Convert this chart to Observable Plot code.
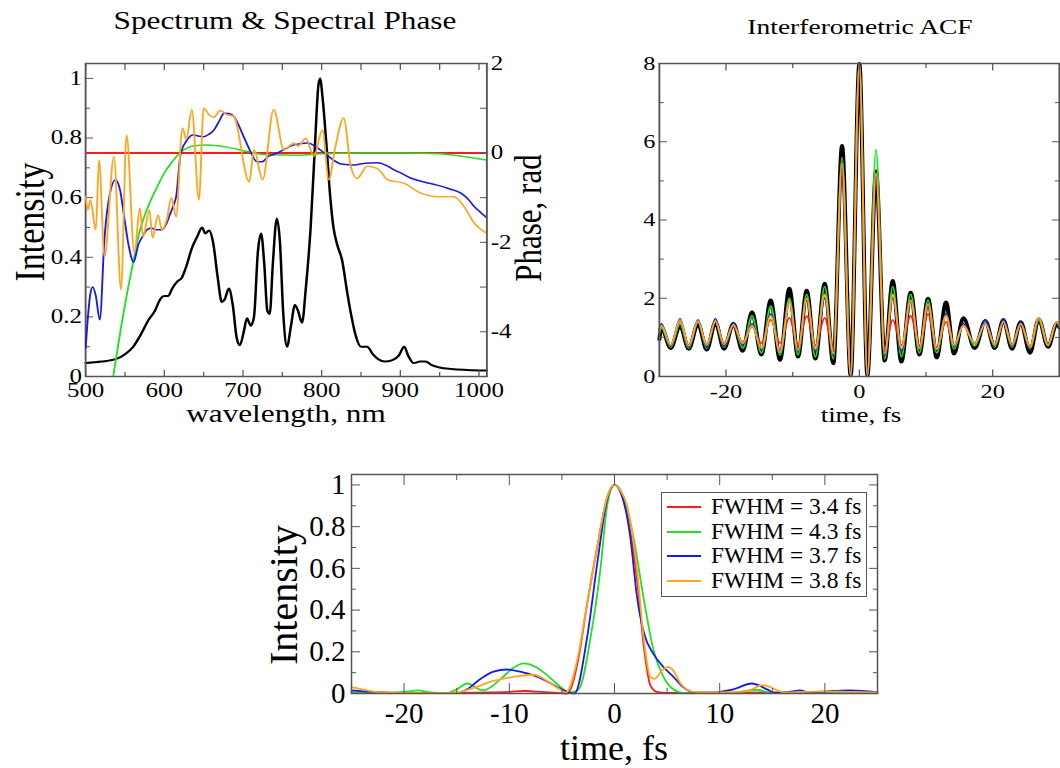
<!DOCTYPE html>
<html><head><meta charset="utf-8">
<script src="https://cdn.jsdelivr.net/npm/d3@7"></script>
<script src="https://cdn.jsdelivr.net/npm/@observablehq/plot@0.6"></script>
<style>
html,body{margin:0;padding:0;background:#fff;}
#root{position:relative;width:1060px;height:768px;overflow:hidden;background:#fff;font-family:"Liberation Serif","Times New Roman",serif;color:#000;}
#root svg, #root svg text{font-family:"Liberation Serif","Times New Roman",serif;}
.panel{position:absolute;top:0;height:460px;transform-origin:0 0;transform:scaleX(1.25);}
.panel svg{position:absolute;left:0;top:40px;}
#p3 svg{position:absolute;left:0;top:0;}
.lbl{position:absolute;white-space:nowrap;line-height:1;}
#legend{position:absolute;box-sizing:border-box;border:1.5px solid #555;background:#fff;}
</style></head>
<body><div id="root">
<div id="p1" class="panel" style="left:0;width:448px"></div>
<div id="p2" class="panel" style="left:600px;width:368px"></div>
<div id="p3" style="position:absolute;left:250px;top:440px;width:650px;height:328px"></div>
</div>
<script>
// ---------- Spectrum (black, intensity) ----------
const specWl = [500,520,540,550,560,570,580,588,595,600,605,610,617,622,628,635,642,648,652,657,662,668,673,677,682,687,692,696,701,705,710,714,719,723,727,731,734,738,743,747,751,756,761,766,770,775,780,786,791,796,798,801,806,811,815,820,826,832,838,843,850,858,865,872,880,890,898,905,910,917,925,932,940,950,965,985,1010];
const specI = [0.045,0.05,0.06,0.075,0.098,0.14,0.19,0.22,0.26,0.27,0.27,0.295,0.32,0.33,0.37,0.43,0.47,0.5,0.48,0.49,0.45,0.33,0.25,0.26,0.295,0.24,0.13,0.105,0.15,0.195,0.17,0.2,0.42,0.48,0.38,0.22,0.21,0.38,0.53,0.45,0.22,0.1,0.17,0.24,0.22,0.18,0.3,0.5,0.75,0.98,1.0,0.94,0.78,0.6,0.5,0.44,0.39,0.29,0.2,0.14,0.1,0.1,0.075,0.058,0.05,0.055,0.07,0.1,0.07,0.045,0.05,0.05,0.038,0.03,0.025,0.022,0.02];
// ---------- Spectral phase (rad) ----------
const redWl = [500,1010];
const redPh = [0,0];
const greenWl = [535,545,551,561,568,575,583,592,600,610,621,630,638,655,680,705,730,770,800,850,900,950,980,1010];
const greenPh = [-5,-3.9,-3.3,-2.4,-1.8,-1.4,-1.05,-0.72,-0.45,-0.2,0.02,0.12,0.16,0.18,0.13,0.03,-0.04,-0.05,-0.02,0,0,-0.02,-0.08,-0.16];
const blueWl = [500,506,509,513,518,524,531,538,544,549,555,561,567,572,578,583,590,596,603,606,611,615,621,629,636,643,650,657,663,670,676,682,689,695,701,709,718,724,732,744,755,765,782,790,798,807,815,825,841,856,871,882,892,903,913,930,947,962,977,987,994,1002,1010];
const bluePh = [-4.36,-3.15,-3.0,-3.2,-3.73,-1.9,-0.9,-0.6,-0.85,-1.43,-2.1,-2.44,-2.05,-1.88,-1.72,-1.68,-1.72,-1.72,-1.57,-1.43,-1.2,-0.98,0.0,0.29,0.4,0.38,0.36,0.42,0.51,0.72,0.89,0.88,0.8,0.6,0.36,0.05,-0.2,-0.2,-0.08,0.0,0.1,0.18,0.22,0.17,0.07,-0.05,-0.16,-0.25,-0.27,-0.23,-0.22,-0.28,-0.38,-0.47,-0.56,-0.65,-0.72,-0.8,-0.9,-1.05,-1.2,-1.33,-1.45];
const orangeWl = [500,503,506,513,517,524,536,545,552,562,569,573,581,585,592,597,603,609,615,623,628,635,644,650,657,663,671,680,688,708,714,725,739,752,765,770,780,790,801,809,817,828,837,845,858,871,884,905,926,947,968,981,994,1010];
const orangePh = [-0.98,-1.27,-1.05,-1.72,-0.16,-2.32,-0.08,-3.06,0.4,-2.24,-1.23,-1.88,-1.27,-1.9,-1.39,-1.72,-1.5,-1.0,-1.43,0.56,0.3,0.97,-1.05,1.0,0.85,0.8,0.95,0.85,0.82,-0.65,0.07,-0.6,0.97,0.07,0.22,0.15,0.33,-0.08,0.51,-0.6,0.1,0.78,-0.3,-0.57,-0.3,-0.35,-0.6,-0.68,-0.9,-0.98,-0.98,-1.2,-1.57,-1.8];
// ---------- Interferometric ACF (extrema) ----------
const acfT = [-30,-29.7,-28.3,-26.9,-25.6,-24.2,-22.9,-21.6,-20.3,-18.9,-17.5,-16.1,-14.7,-13.3,-11.9,-10.5,-9.2,-7.9,-6.6,-5.2,-3.9,-2.6,-1.3,0,1.2,2.5,3.8,5.0,6.3,7.7,9.0,10.3,11.6,13.0,14.2,15.6,17.3,18.9,20.3,21.6,22.9,24.2,25.6,26.9,28.3,29.6,30];
const acfBlack = [0.95,1.25,0.72,1.3,0.7,1.35,0.68,1.38,0.7,1.35,0.65,1.65,0.55,1.95,0.42,2.25,0.5,2.2,0.45,2.38,0.33,5.9,0.02,8.0,0.02,5.25,0.4,2.45,0.37,2.15,0.55,2.0,0.48,1.9,0.58,1.5,0.72,1.42,0.72,1.45,0.7,1.4,0.6,1.47,0.75,1.35,1.25];
const acfRed = [1.15,1.3,0.8,1.42,0.8,1.4,0.82,1.4,0.85,1.3,0.88,1.28,0.85,1.45,0.85,1.5,0.8,1.55,0.8,1.5,0.7,5.3,0.02,8.0,0.02,5.2,0.7,1.45,0.8,1.55,0.78,1.6,0.75,1.4,0.8,1.3,0.85,1.35,0.8,1.4,0.8,1.35,0.78,1.45,0.8,1.4,1.3];
const acfGreen = [1.1,1.25,0.75,1.35,0.72,1.4,0.72,1.42,0.75,1.35,0.72,1.55,0.6,1.8,0.55,2.0,0.55,2.1,0.5,2.3,0.45,5.6,0.02,8.0,0.02,5.8,0.45,2.3,0.5,2.1,0.6,1.95,0.6,1.6,0.7,1.35,0.78,1.4,0.75,1.42,0.75,1.38,0.7,1.45,0.78,1.38,1.28];
const acfBlue = [1.2,1.35,0.78,1.48,0.75,1.45,0.75,1.48,0.78,1.38,0.8,1.35,0.7,1.6,0.62,1.9,0.65,2.0,0.65,2.0,0.55,5.4,0.02,8.0,0.02,5.2,0.55,2.0,0.65,1.95,0.7,1.85,0.68,1.6,0.78,1.35,0.85,1.45,0.78,1.48,0.78,1.4,0.72,1.5,0.8,1.4,1.3];
const acfOrange = [1.15,1.3,0.8,1.45,0.78,1.42,0.8,1.42,0.82,1.32,0.85,1.3,0.72,1.55,0.62,1.9,0.68,2.0,0.7,2.1,0.58,5.45,0.02,8.0,0.02,5.2,0.58,2.1,0.72,1.95,0.72,1.85,0.7,1.55,0.8,1.3,0.85,1.35,0.8,1.4,0.8,1.35,0.75,1.5,0.8,1.4,1.3];
// ---------- Temporal intensity ----------
const redT = [-25,-20,-15,-12,-10,-8.5,-7,-5.5,-4.5,-3.5,-2.6,-1.65,-0.7,0,0.7,1.5,2.2,2.8,3.4,4,5,10,15,20,25];
const redI = [0.005,0.003,0.003,0.005,0.008,0.012,0.008,0.003,0.0,0.15,0.43,0.7,0.94,1.0,0.95,0.78,0.52,0.22,0.04,0.008,0.003,0.003,0.005,0.003,0.003];
const greenT = [-25,-22,-19.5,-18.7,-17.5,-16,-15,-14,-12.5,-10.8,-9.7,-8.6,-7.6,-6.7,-5.1,-4.3,-3.4,-2.27,-1.33,-0.7,0,0.8,1.8,2.76,3.7,4.65,5.6,6.5,8,11,13.5,15,20,25];
const greenI = [0.005,0.003,0.01,0.015,0.005,0.002,0.02,0.048,0.015,0.07,0.12,0.144,0.13,0.1,0.03,0.003,0.02,0.27,0.6,0.9,1.0,0.95,0.75,0.46,0.21,0.08,0.02,0.003,0.003,0.003,0.018,0.003,0.003,0.003];
const blueT = [-25,-23,-21,-18,-15,-14,-13,-11.5,-10.2,-8.6,-7.3,-6.1,-4.8,-3.8,-2.6,-1.65,-0.7,0,0.7,1.5,2.15,2.8,3.7,4.65,5.6,6.55,7.5,9.1,11.3,13.05,14.5,15.2,17,17.6,18.5,20.8,22.4,25];
const blueI = [0.015,0.008,0.003,0.002,0.003,0.02,0.06,0.105,0.115,0.1,0.08,0.05,0.015,0.0,0.27,0.62,0.93,1.0,0.95,0.75,0.46,0.29,0.19,0.127,0.08,0.03,0.005,0.005,0.02,0.048,0.02,0.003,0.01,0.015,0.005,0.012,0.015,0.007];
const orangeT = [-25,-23.5,-22,-20,-17,-15,-13.5,-11.5,-9.6,-7.7,-6.1,-5.2,-4.6,-3.5,-2.6,-1.65,-0.7,0,0.6,1.2,2.15,2.76,3.4,3.8,4.5,5.1,5.6,6.25,7.5,10,12.5,14.1,16.2,19.8,22,25];
const orangeI = [0.03,0.015,0.005,0.003,0.002,0.005,0.025,0.06,0.08,0.09,0.05,0.02,0.005,0.17,0.43,0.7,0.94,1.0,0.97,0.9,0.59,0.27,0.08,0.07,0.11,0.127,0.11,0.05,0.008,0.005,0.01,0.04,0.005,0.01,0.008,0.005];
// ---------- Ticks & text ----------
const p1XMajor = [500,600,700,800,900,1000];
const p1XMinor = [550,650,750,850,950];
const p1XTop = [500,550,600,650,700,750,800,850,900,950,1000];
const p1YMajor = [0,0.2,0.4,0.6,0.8,1];
const p1YMinor = [0.1,0.3,0.5,0.7,0.9];
const phMajor = [-4,-2,0,2];
const phMinor = [-5,-3,-1,1];
const acfXMajor = [-20,0,20];
const acfXMinor = [-10,10];
const acfYMajor = [0,2,4,6,8];
const acfYMinor = [1,3,5,7];
const p3XMajor = [-20,-10,0,10,20];
const p3XMinor = [-15,-5,5,15];
const p3YMajor = [0,0.2,0.4,0.6,0.8,1];
const p3YMinor = [0.1,0.3,0.5,0.7,0.9];
const legendLabels = ["FWHM = 3.4 fs","FWHM = 4.3 fs","FWHM = 3.7 fs","FWHM = 3.8 fs"];
const seriesColors = ["#ff1a1a","#22e022","#1a1ae6","#ffa51f"];

const FONT = '"Liberation Serif", "Times New Roman", serif';
const GRAY = "#555";
const zip = (xs, ys) => xs.map((x, i) => ({x, y: ys[i]}));
const fmt = d => String(d);
const blank = () => "";
const svgStyle = fs => ({"background": "transparent", "font-family": FONT, "font-size": fs + "px", "color": "#000", "overflow": "visible"});

function axisSet(c) {
  const m = [];
  const t = {stroke: GRAY, label: null, fontFamily: FONT};
  m.push(Plot.axisX(c.xMajor, {...t, anchor: "bottom", tickSize: -c.xMaj, tickPadding: c.xPad, tickFormat: fmt, fontSize: c.fs}));
  m.push(Plot.axisX(c.xMinor, {...t, anchor: "bottom", tickSize: -c.xMin, tickFormat: blank}));
  m.push(Plot.axisX(c.topMajor, {...t, anchor: "top", tickSize: -c.xMaj, tickFormat: blank}));
  if (c.topMinor) m.push(Plot.axisX(c.topMinor, {...t, anchor: "top", tickSize: -c.xMin, tickFormat: blank}));
  m.push(Plot.axisY(c.yMajor, {...t, anchor: "left", tickSize: -c.yMaj, tickPadding: c.yPad, tickFormat: fmt, fontSize: c.fs}));
  m.push(Plot.axisY(c.yMinor, {...t, anchor: "left", tickSize: -c.yMin, tickFormat: blank}));
  if (c.right) {
    m.push(Plot.axisY(c.yMajor, {...t, anchor: "right", tickSize: -c.yMaj, tickFormat: blank}));
    m.push(Plot.axisY(c.yMinor, {...t, anchor: "right", tickSize: -c.yMin, tickFormat: blank}));
  }
  return m;
}

function addLabel(parent, text, x, y, size, rot) {
  const d = document.createElement("div");
  d.className = "lbl";
  d.textContent = text;
  d.style.left = x + "px";
  d.style.top = y + "px";
  d.style.fontSize = size + "px";
  d.style.transform = "translate(-50%,-50%)" + (rot ? " rotate(-90deg)" : "");
  parent.appendChild(d);
}

// ---------- Panel 1: spectrum & phase ----------
const p1 = document.getElementById("p1");
const dims1 = {width: 448, height: 420, marginLeft: 68, marginRight: 59, marginTop: 23, marginBottom: 84};
const plotA = Plot.plot({
  ...dims1,
  x: {domain: [500, 1010]},
  y: {domain: [0, 1.05]},
  style: svgStyle(20),
  marks: [
    Plot.line(zip(specWl, specI), {x: "x", y: "y", stroke: "#000", strokeWidth: 2, curve: "monotone-x"}),
    ...axisSet({xMajor: p1XMajor, xMinor: p1XMinor, topMajor: p1XTop, xMaj: 6, xMin: 4, xPad: 12,
      yMajor: p1YMajor, yMinor: p1YMinor, yMaj: 6.5, yMin: 4, yPad: 9.5, fs: 20, right: false}),
    Plot.frame({stroke: GRAY, strokeWidth: 1.5})
  ]
});
p1.appendChild(plotA);
const plotB = Plot.plot({
  ...dims1,
  x: {domain: [500, 1010], axis: null},
  y: {domain: [-5, 2]},
  style: svgStyle(20),
  marks: [
    Plot.line(zip(redWl, redPh), {x: "x", y: "y", stroke: seriesColors[0], strokeWidth: 2, clip: true}),
    Plot.line(zip(greenWl, greenPh), {x: "x", y: "y", stroke: seriesColors[1], strokeWidth: 1.5, curve: "monotone-x", clip: true}),
    Plot.line(zip(blueWl, bluePh), {x: "x", y: "y", stroke: seriesColors[2], strokeWidth: 1.5, curve: "monotone-x", clip: true}),
    Plot.line(zip(orangeWl, orangePh), {x: "x", y: "y", stroke: seriesColors[3], strokeWidth: 1.5, curve: "monotone-x", clip: true}),
    Plot.axisY(phMajor, {anchor: "right", tickSize: -6, tickPadding: 9, tickFormat: fmt, stroke: GRAY, label: null, fontSize: 20, fontFamily: FONT}),
    Plot.axisY(phMinor, {anchor: "right", tickSize: -6, tickFormat: blank, stroke: GRAY, label: null})
  ]
});
p1.appendChild(plotB);
addLabel(p1, "Spectrum & Spectral Phase", 228, 20, 25);
addLabel(p1, "Intensity", 24, 222, 34, true);
addLabel(p1, "Phase, rad", 422.4, 218, 31, true);
addLabel(p1, "wavelength, nm", 228.8, 413, 25);

// ---------- Panel 2: interferometric ACF ----------
const p2 = document.getElementById("p2");
const acfSeries = [[acfBlack, "#000", 3.2], [acfRed, seriesColors[0], 1.5], [acfGreen, seriesColors[1], 1.5], [acfBlue, seriesColors[2], 1.5], [acfOrange, seriesColors[3], 1.6]];
const plotC = Plot.plot({
  width: 368, height: 420, marginLeft: 47, marginRight: 1, marginTop: 23, marginBottom: 84,
  x: {domain: [-30, 30]},
  y: {domain: [0, 8]},
  style: svgStyle(19.5),
  marks: [
    ...acfSeries.map(([vals, col, w]) => Plot.line(zip(acfT, vals), {x: "x", y: "y", stroke: col, strokeWidth: w, curve: "monotone-x"})),
    ...axisSet({xMajor: acfXMajor, xMinor: acfXMinor, topMajor: acfXMajor, topMinor: acfXMinor, xMaj: 6.5, xMin: 4, xPad: 14.5,
      yMajor: acfYMajor, yMinor: acfYMinor, yMaj: 6.5, yMin: 4, yPad: 9.7, fs: 19.5, right: true}),
    Plot.frame({stroke: GRAY, strokeWidth: 1.5})
  ]
});
p2.appendChild(plotC);
addLabel(p2, "Interferometric ACF", 208, 27, 22);
addLabel(p2, "time, fs", 208.8, 416, 21.5);

// ---------- Panel 3: temporal intensity ----------
const p3 = document.getElementById("p3");
const tSeries = [[redT, redI], [greenT, greenI], [blueT, blueI], [orangeT, orangeI]];
const plotD = Plot.plot({
  width: 650, height: 328, marginLeft: 101, marginRight: 23, marginTop: 34, marginBottom: 75,
  x: {domain: [-25, 25]},
  y: {domain: [0, 1.05]},
  style: svgStyle(29),
  marks: [
    ...tSeries.map(([ts, vs], i) => Plot.line(zip(ts, vs), {x: "x", y: "y", stroke: seriesColors[i], strokeWidth: 1.8, curve: "monotone-x"})),
    ...axisSet({xMajor: p3XMajor, xMinor: p3XMinor, topMajor: p3XMajor, topMinor: p3XMinor, xMaj: 10, xMin: 5, xPad: 19,
      yMajor: p3YMajor, yMinor: p3YMinor, yMaj: 9, yMin: 5, yPad: 15, fs: 29, right: true}),
    Plot.frame({stroke: GRAY, strokeWidth: 1.5})
  ]
});
p3.appendChild(plotD);
const root = document.getElementById("root");
addLabel(root, "Intensity", 284, 595, 40, true);
addLabel(root, "time, fs", 614, 748, 36);

// legend
const lg = document.createElement("div");
lg.id = "legend";
lg.style.left = "661px"; lg.style.top = "492px"; lg.style.width = "206px"; lg.style.height = "105px";
root.appendChild(lg);
legendLabels.forEach((t, i) => {
  const cy = 14 + i * 24.7;
  const ln = document.createElement("div");
  ln.style.cssText = `position:absolute;left:5px;width:34px;top:${cy - 1}px;height:0;border-top:2px solid ${seriesColors[i]};`;
  lg.appendChild(ln);
  const tx = document.createElement("div");
  tx.className = "lbl";
  tx.textContent = t;
  tx.style.cssText += `left:49px;top:${cy}px;font-size:23.5px;transform:translateY(-50%);`;
  lg.appendChild(tx);
});
</script>
</body></html>
